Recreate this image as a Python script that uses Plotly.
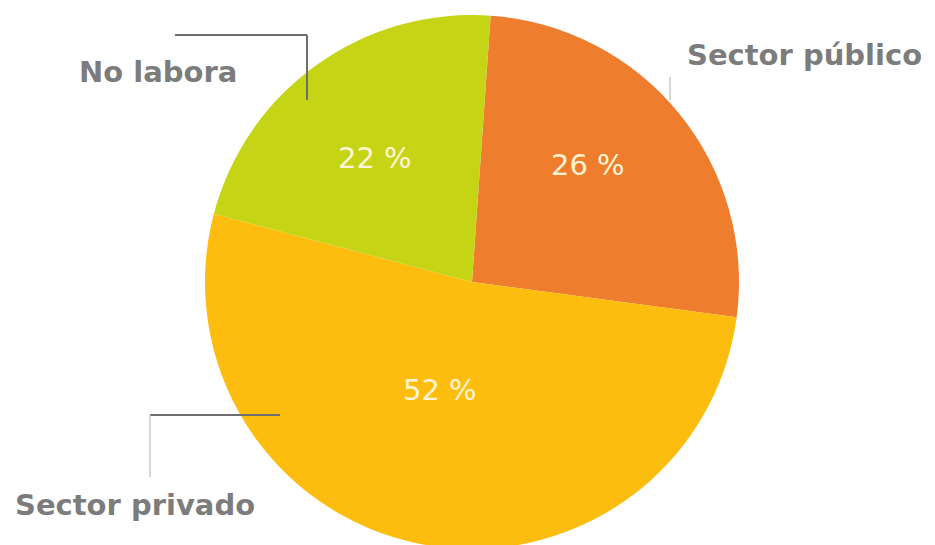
import plotly.graph_objects as go

categories = ["Sector público", "Sector privado", "No labora"]
values = [26, 52, 22]
colors = ["#EE7D2E", "#FDBD0F", "#C5D415"]

W, H = 935, 545
OFF = 8  # page body margin of the browser
cx, cy, r = 472 - OFF, 282 - OFF, 267

def clamp(v):
    return max(0.0, min(1.0, v))

fig = go.Figure(go.Pie(
    labels=categories,
    values=values,
    sort=False,
    direction="clockwise",
    rotation=4,
    marker=dict(colors=colors, line=dict(width=0)),
    textinfo="none",
    hoverinfo="label+value",
    showlegend=False,
    domain=dict(x=[clamp((cx - r) / W), clamp((cx + r) / W)],
                y=[clamp(1 - (cy + r) / H), clamp(1 - (cy - r) / H)]),
))

def px(x):
    return (x - OFF) / W

def py(y):
    return 1 - (y - OFF) / H

# category label placement (left x, middle y) in screen pixels
label_pos = {
    "No labora": (77, 72),
    "Sector público": (685, 55),
    "Sector privado": (13, 505),
}
# value label centres in screen pixels
value_pos = {
    "No labora": (375, 158),
    "Sector público": (588, 165),
    "Sector privado": (440, 390),
}
for name, val in zip(categories, values):
    x, y = label_pos[name]
    fig.add_annotation(text=name, x=px(x), y=py(y), xref="paper", yref="paper",
                       showarrow=False, xanchor="left", yanchor="middle",
                       font=dict(family="DejaVu Sans", size=29, color="#7C7C7C", weight="bold"))
    x, y = value_pos[name]
    fig.add_annotation(text=f"{val} %", x=px(x), y=py(y), xref="paper", yref="paper",
                       showarrow=False, xanchor="center", yanchor="middle",
                       font=dict(family="DejaVu Sans", size=29, color="#FFF4D6"))

dark = dict(color="#6E6E6E", width=2)
light = dict(color="#C8C8C8", width=1.5)
segments = [
    ((175, 35), (307, 35), dark),
    ((307, 35), (307, 100), dark),
    ((670, 77), (670, 100), light),
    ((150, 415), (280, 415), dark),
    ((150, 415), (150, 477), light),
]
for (x0, y0), (x1, y1), ln in segments:
    fig.add_shape(type="line", xref="paper", yref="paper",
                  x0=px(x0), y0=py(y0), x1=px(x1), y1=py(y1), line=ln)

fig.update_layout(width=W, height=H, margin=dict(l=0, r=0, t=0, b=0),
                  paper_bgcolor="white", plot_bgcolor="white")
fig.write_html("out.html")
